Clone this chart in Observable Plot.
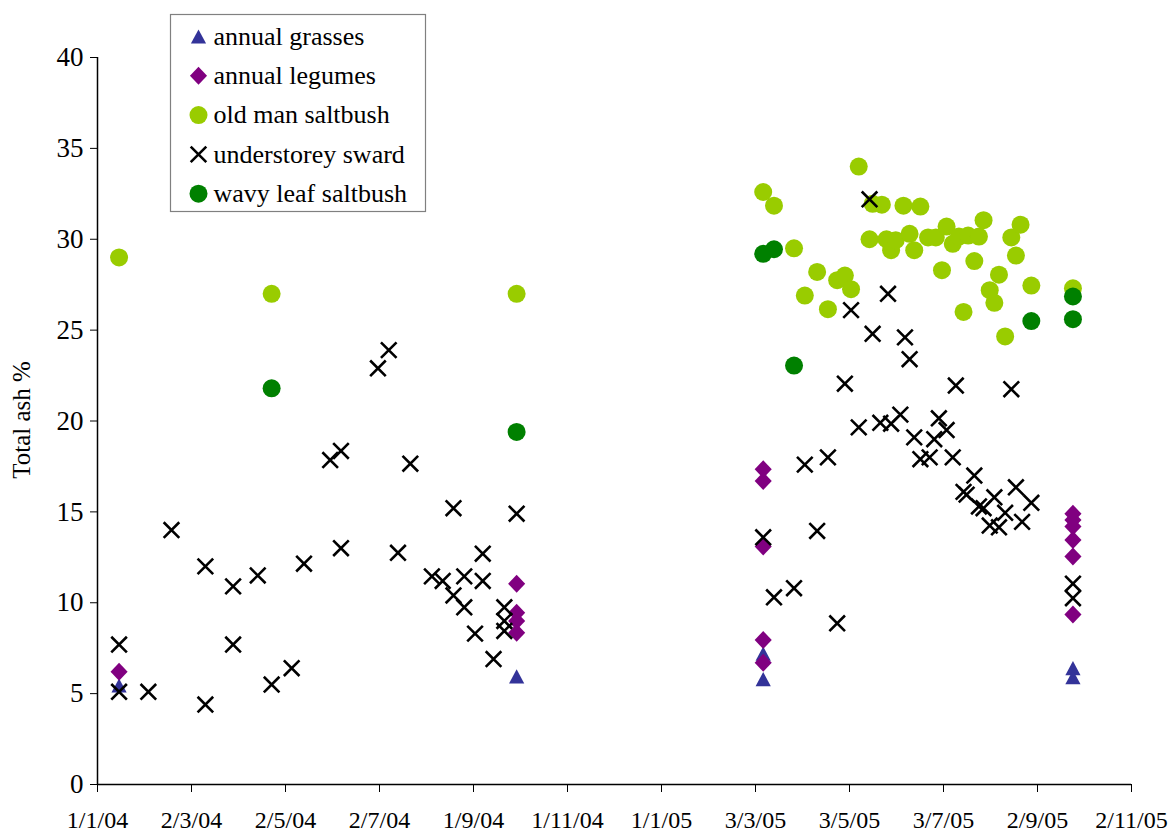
<!DOCTYPE html>
<html>
<head>
<meta charset="utf-8">
<script src="https://cdn.jsdelivr.net/npm/d3@7"></script>
<script src="https://cdn.jsdelivr.net/npm/@observablehq/plot@0.6"></script>
<style>
  body { margin: 0; background: #fff; }
  #wrap { position: relative; width: 1169px; height: 834px; }
</style>
</head>
<body>
<div id="wrap"></div>
<script>
// ---------------- DATA ----------------
const seriesNames = ["annual grasses", "annual legumes", "old man saltbush", "understorey sward", "wavy leaf saltbush"];
const seriesColors = ["#333399", "#800080", "#99cc00", "#000000", "#008000"];

const grassDates = ["2004-01-15", "2004-09-29", "2005-03-08", "2005-03-08", "2005-09-25", "2005-09-25"];
const grassValues = [5.45, 5.95, 7.2, 5.8, 6.4, 5.9];

const legumeDates = ["2004-01-15",
  "2004-09-29", "2004-09-29", "2004-09-29", "2004-09-29",
  "2005-03-08", "2005-03-08", "2005-03-08", "2005-03-08", "2005-03-08",
  "2005-09-25", "2005-09-25", "2005-09-25", "2005-09-25", "2005-09-25", "2005-09-25"];
const legumeValues = [6.2,
  11.05, 9.45, 9.0, 8.35,
  17.35, 16.7, 13.1, 7.95, 6.7,
  14.9, 14.55, 14.2, 13.45, 12.55, 9.35];

const oldManDates = ["2004-01-15", "2004-04-23", "2004-09-29",
  "2005-03-08", "2005-03-15", "2005-03-28", "2005-04-04", "2005-04-12", "2005-04-19", "2005-04-25",
  "2005-04-30", "2005-05-04", "2005-05-09", "2005-05-16", "2005-05-18", "2005-05-24", "2005-05-27",
  "2005-05-30", "2005-06-02", "2005-06-07", "2005-06-11", "2005-06-14", "2005-06-18", "2005-06-23",
  "2005-06-28", "2005-07-02", "2005-07-05", "2005-07-09", "2005-07-13", "2005-07-16", "2005-07-19",
  "2005-07-23", "2005-07-26", "2005-07-29", "2005-08-02", "2005-08-05", "2005-08-08", "2005-08-12",
  "2005-08-16", "2005-08-19", "2005-08-22", "2005-08-29", "2005-09-25"];
const oldManValues = [29.0, 27.0, 27.0,
  32.6, 31.85, 29.5, 26.9, 28.2, 26.15, 27.75,
  28.0, 27.25, 34.0, 30.0, 31.95, 31.9, 30.0,
  29.4, 29.95, 31.85, 30.3, 29.4, 31.8, 30.1,
  30.1, 28.3, 30.7, 29.75, 30.15, 26.0, 30.2,
  28.8, 30.15, 31.05, 27.2, 26.5, 28.05, 24.65,
  30.1, 29.1, 30.8, 27.45, 27.3];

const swardDates = ["2004-01-15", "2004-01-15", "2004-02-03", "2004-02-18", "2004-03-11", "2004-03-11",
  "2004-03-29", "2004-03-29", "2004-04-14", "2004-04-23", "2004-05-06", "2004-05-14", "2004-05-31",
  "2004-06-07", "2004-06-07", "2004-07-01", "2004-07-08", "2004-07-14", "2004-07-22", "2004-08-05",
  "2004-08-12", "2004-08-19", "2004-08-19", "2004-08-26", "2004-08-26", "2004-09-02", "2004-09-07",
  "2004-09-07", "2004-09-14", "2004-09-21", "2004-09-21", "2004-09-21", "2004-09-29",
  "2005-03-08", "2005-03-15", "2005-03-28", "2005-04-04", "2005-04-12", "2005-04-19", "2005-04-25",
  "2005-04-30", "2005-05-04", "2005-05-09", "2005-05-16", "2005-05-18", "2005-05-23", "2005-05-28",
  "2005-05-30", "2005-06-05", "2005-06-08", "2005-06-11", "2005-06-14", "2005-06-18", "2005-06-24",
  "2005-06-27", "2005-06-30", "2005-07-05", "2005-07-09", "2005-07-11", "2005-07-16", "2005-07-18",
  "2005-07-23", "2005-07-26", "2005-07-29", "2005-08-02", "2005-08-05", "2005-08-08", "2005-08-12",
  "2005-08-16", "2005-08-19", "2005-08-23", "2005-08-29", "2005-09-25", "2005-09-25"];
const swardValues = [7.7, 5.1, 5.1, 14.0, 12.0, 4.4,
  10.9, 7.7, 11.5, 5.5, 6.4, 12.15, 17.85,
  18.35, 13.0, 22.9, 23.9, 12.75, 17.65, 11.45,
  11.2, 15.2, 10.4, 11.45, 9.75, 8.3, 12.7,
  11.2, 6.9, 9.75, 9.0, 8.45, 14.9,
  13.6, 10.3, 10.8, 17.6, 13.95, 18.0, 8.87,
  22.05, 26.1, 19.65, 32.2, 24.8, 19.9, 27.0,
  19.85, 20.35, 24.6, 23.4, 19.1, 17.9, 18.0,
  19.0, 20.15, 19.5, 18.0, 21.95, 16.1, 15.95,
  17.0, 15.3, 15.2, 14.25, 15.8, 14.15, 14.95,
  21.75, 16.35, 14.45, 15.5, 11.05, 10.25];

const wavyDates = ["2004-04-23", "2004-09-29", "2005-03-08", "2005-03-15", "2005-03-28", "2005-08-29", "2005-09-25", "2005-09-25"];
const wavyValues = [21.8, 19.4, 29.2, 29.45, 23.05, 25.5, 26.85, 25.6];

const xTickDates = ["2004-01-01", "2004-03-02", "2004-05-02", "2004-07-02", "2004-09-01", "2004-11-01",
  "2005-01-01", "2005-03-03", "2005-05-03", "2005-07-03", "2005-09-02", "2005-11-02"];
const xTickLabels = ["1/1/04", "2/3/04", "2/5/04", "2/7/04", "1/9/04", "1/11/04",
  "1/1/05", "3/3/05", "3/5/05", "3/7/05", "2/9/05", "2/11/05"];
const yTicks = [0, 5, 10, 15, 20, 25, 30, 35, 40];
const yLabel = "Total ash %";

// ---------------- BUILD ----------------
const parse = d3.utcParse("%Y-%m-%d");
const rows = (dates, values) => dates.map((d, i) => ({date: parse(d), value: values[i]}));
const xTicks = xTickDates.map(parse);
const labelMap = new Map(xTicks.map((d, i) => [+d, xTickLabels[i]]));

const triangleSym = {draw(ctx, size) { const r = Math.sqrt(size / Math.PI);
  ctx.moveTo(0, -r * 0.93); ctx.lineTo(r, r * 0.93); ctx.lineTo(-r, r * 0.93); ctx.closePath(); }};
const diamondSym = {draw(ctx, size) { const r = Math.sqrt(size / Math.PI);
  ctx.moveTo(0, -r); ctx.lineTo(r * 0.95, 0); ctx.lineTo(0, r); ctx.lineTo(-r * 0.95, 0); ctx.closePath(); }};
const crossSym = {draw(ctx, size) { const r = Math.sqrt(size / Math.PI);
  ctx.moveTo(-r, -r); ctx.lineTo(r, r); ctx.moveTo(-r, r); ctx.lineTo(r, -r); }};

const styles = [
  {symbol: triangleSym, r: 7.6, fill: seriesColors[0]},
  {symbol: diamondSym, r: 9, fill: seriesColors[1]},
  {symbol: "circle", r: 9, fill: seriesColors[2]},
  {symbol: crossSym, r: 7.8, fill: "none", stroke: seriesColors[3], strokeWidth: 2.6},
  {symbol: "circle", r: 9, fill: seriesColors[4]}
];
const datasets = [
  rows(grassDates, grassValues),
  rows(legumeDates, legumeValues),
  rows(oldManDates, oldManValues),
  rows(swardDates, swardValues),
  rows(wavyDates, wavyValues)
];

const font = "'Liberation Serif', 'Times New Roman', serif";

const chart = Plot.plot({
  width: 1169,
  height: 834,
  marginLeft: 97,
  marginRight: 38,
  marginTop: 57,
  marginBottom: 50,
  style: {fontFamily: font, fontSize: "24px", color: "#000", background: "#fff"},
  x: {type: "utc", domain: [xTicks[0], xTicks[xTicks.length - 1]]},
  y: {domain: [0, 40]},
  marks: [
    Plot.axisX({ticks: xTicks, tickFormat: d => labelMap.get(+d), tickSize: 8, tickPadding: 18, label: null, fontSize: 24, stroke: "#000"}),
    Plot.axisY({ticks: yTicks, tickSize: 7, tickPadding: 7, label: null, fontSize: 27, stroke: "#000"}),
    Plot.ruleY([0], {stroke: "#000", strokeWidth: 1.5}),
    Plot.ruleX([xTicks[0]], {stroke: "#000", strokeWidth: 1.5}),
    ...datasets.map((data, i) => Plot.dot(data, {x: "date", y: "value", ...styles[i]}))
  ]
});

const svg = d3.select(chart);
svg.append("text")
  .attr("transform", "translate(30,420) rotate(-90)")
  .attr("text-anchor", "middle")
  .attr("font-family", font)
  .attr("font-size", 25)
  .attr("fill", "#000")
  .text(yLabel);

// legend
const lg = svg.append("g").attr("transform", "translate(170.5,14.5)");
lg.append("rect").attr("width", 255).attr("height", 197).attr("fill", "#fff").attr("stroke", "#808080").attr("stroke-width", 1.2);
seriesNames.forEach((name, i) => {
  const cy = 22 + i * 39.3;
  const st = styles[i];
  const symType = typeof st.symbol === "string" ? d3.symbolCircle : st.symbol;
  lg.append("path")
    .attr("d", d3.symbol(symType, st.r * st.r * Math.PI)())
    .attr("transform", `translate(28,${cy})`)
    .attr("fill", st.fill)
    .attr("stroke", st.stroke || "none")
    .attr("stroke-width", st.strokeWidth || 0);
  lg.append("text")
    .attr("x", 43).attr("y", cy).attr("dy", "0.32em")
    .attr("text-anchor", "start")
    .attr("font-family", font).attr("font-size", 26).attr("fill", "#000")
    .text(name);
});

document.getElementById("wrap").appendChild(chart);
</script>
</body>
</html>
